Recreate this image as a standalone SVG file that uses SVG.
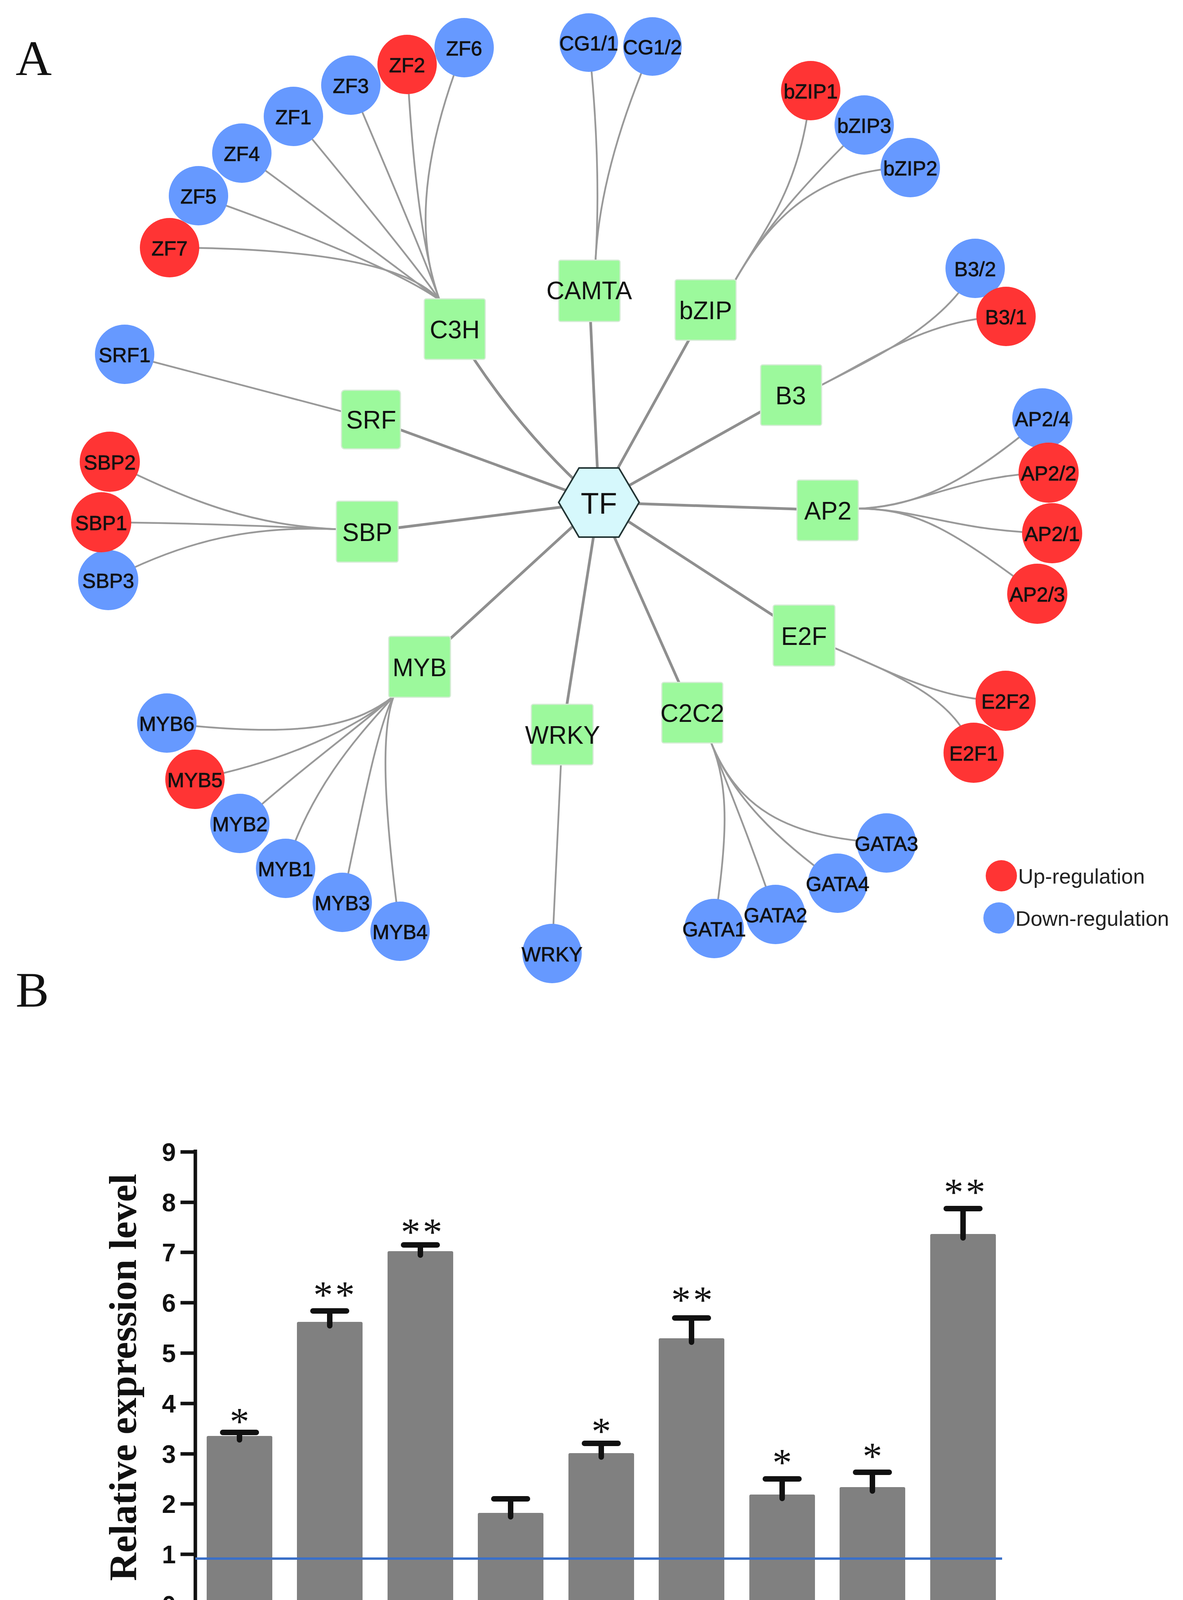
<svg xmlns="http://www.w3.org/2000/svg" width="3028" height="4442" viewBox="0 0 3028 4442">
<style>
.te{fill:none;stroke:#8f8f8f;stroke-width:7}
.le{fill:none;stroke:#999;stroke-width:4.5}
.up{fill:#ff3434}
.dn{fill:#6699ff}
.bx{fill:#9cf99c;stroke:#d4ecd4;stroke-width:3}
.ll{font-family:"Liberation Sans",Arial,sans-serif;font-size:52px;fill:#111;stroke:#111;stroke-width:1;text-anchor:middle;dominant-baseline:central}
.bl{font-family:"Liberation Sans",Arial,sans-serif;font-size:64px;fill:#111;text-anchor:middle;dominant-baseline:central}
.pl{font-family:"Liberation Serif","Times New Roman",serif;font-size:128px;fill:#111}
.tk{font-family:"Liberation Sans",Arial,sans-serif;font-weight:bold;font-size:64px;fill:#111;text-anchor:end}
.xl{font-family:"Liberation Serif","Times New Roman",serif;font-weight:bold;font-size:84px;fill:#111;text-anchor:end}
.st{font-family:"Liberation Serif","Times New Roman",serif;font-size:100px;fill:#111;text-anchor:middle;letter-spacing:6px}
.bar{fill:#808080}
.ax{stroke:#111;stroke-width:9;fill:none}
.eb{stroke:#111;stroke-width:14;stroke-linecap:round;fill:none}
.lg{font-family:"Liberation Sans",Arial,sans-serif;font-size:54px;fill:#222}
</style>
<rect width="3028" height="4442" fill="#fff"/>
<text class="pl" x="40" y="192">A</text>
<text class="pl" x="40" y="2577">B</text>
<g id="connectors">
<path class="te" d="M1533,1286 Q1320,1100 1164,842"/>
<path class="te" d="M1533,1286 L1508,744"/>
<path class="te" d="M1533,1286 L1806,793"/>
<path class="te" d="M1533,1286 L2024,1011"/>
<path class="te" d="M1533,1286 L2119,1306"/>
<path class="te" d="M1533,1286 L2058,1627"/>
<path class="te" d="M1533,1286 L1772,1824"/>
<path class="te" d="M1533,1286 L1439,1880"/>
<path class="te" d="M1533,1286 L1074,1707"/>
<path class="te" d="M1533,1286 L940,1361"/>
<path class="te" d="M1533,1286 L950,1073"/>
<path class="le" d="M1125,768 Q1010,636 434,634"/>
<path class="le" d="M1125,768 Q990,672 508,501"/>
<path class="le" d="M1125,768 Q1050,710 619,392"/>
<path class="le" d="M1125,768 Q1075,690 751,298"/>
<path class="le" d="M1125,768 Q1095,680 898,218"/>
<path class="le" d="M1125,768 Q1065,600 1042,165"/>
<path class="le" d="M1125,768 Q1030,520 1188,122"/>
<path class="le" d="M1524,672 Q1540,420 1507,109"/>
<path class="le" d="M1524,672 Q1535,430 1670,119"/>
<path class="le" d="M1878,724 C1960,580 2050,480 2075,232"/>
<path class="le" d="M1878,724 C1960,580 2060,470 2212,320"/>
<path class="le" d="M1878,724 C1960,580 2080,430 2330,429"/>
<path class="le" d="M2098,988 C2250,910 2380,815 2575,810"/>
<path class="le" d="M2098,988 C2250,910 2420,830 2496,687"/>
<path class="le" d="M2195,1302 C2350,1298 2480,1230 2668,1071"/>
<path class="le" d="M2195,1302 C2350,1298 2460,1215 2684,1210"/>
<path class="le" d="M2195,1302 C2350,1302 2450,1362 2693,1365"/>
<path class="le" d="M2195,1302 C2350,1302 2440,1360 2655,1520"/>
<path class="le" d="M2132,1657 C2300,1730 2420,1795 2574,1794"/>
<path class="le" d="M2132,1657 C2300,1730 2450,1790 2492,1927"/>
<path class="le" d="M1819,1898 C1870,2020 1860,2150 1828,2377"/>
<path class="le" d="M1819,1898 C1870,2030 1920,2150 1985,2341"/>
<path class="le" d="M1819,1898 C1875,2040 1990,2150 2144,2261"/>
<path class="le" d="M1819,1898 C1885,2060 2000,2145 2269,2158"/>
<path class="le" d="M1436,1950 L1413,2441"/>
<path class="le" d="M1008,1782 C920,1850 800,1895 427,1851"/>
<path class="le" d="M1008,1782 C920,1860 730,1950 499,1995"/>
<path class="le" d="M1008,1782 C920,1860 780,1960 614,2108"/>
<path class="le" d="M1008,1782 C940,1860 800,2000 731,2223"/>
<path class="le" d="M1008,1782 C970,1850 930,2050 876,2310"/>
<path class="le" d="M1008,1782 C975,1870 980,2050 1024,2384"/>
<path class="le" d="M866,1355 C650,1345 500,1290 281,1182"/>
<path class="le" d="M866,1355 C650,1345 450,1338 259,1337"/>
<path class="le" d="M866,1355 C650,1345 480,1380 277,1485"/>
<path class="le" d="M950,1073 L319,907"/>
</g>
<g id="TF"><polygon points="1430,1286 1482,1198 1584,1198 1636,1286 1584,1375 1482,1375" fill="#d6f8fc" stroke="#233535" stroke-width="4"/><text class="bl" x="1533" y="1288" style="font-size:76px">TF</text></g>
<g id="C3H"><rect class="bx" x="1086" y="765" width="156" height="155" rx="5"/><text class="bl" x="1164" y="844">C3H</text></g>
<g id="CAMTA"><rect class="bx" x="1430" y="666" width="157" height="157" rx="5"/><text class="bl" x="1508" y="744">CAMTA</text></g>
<g id="bZIP"><rect class="bx" x="1728" y="716" width="156" height="155" rx="5"/><text class="bl" x="1806" y="795">bZIP</text></g>
<g id="B3"><rect class="bx" x="1947" y="934" width="156" height="155" rx="5"/><text class="bl" x="2024" y="1013">B3</text></g>
<g id="AP2"><rect class="bx" x="2040" y="1229" width="157" height="155" rx="5"/><text class="bl" x="2119" y="1308">AP2</text></g>
<g id="E2F"><rect class="bx" x="1979" y="1549" width="158" height="156" rx="5"/><text class="bl" x="2058" y="1629">E2F</text></g>
<g id="C2C2"><rect class="bx" x="1694" y="1747" width="156" height="155" rx="5"/><text class="bl" x="1772" y="1826">C2C2</text></g>
<g id="WRKYbox"><rect class="bx" x="1360" y="1803" width="158" height="155" rx="5"/><text class="bl" x="1440" y="1882">WRKY</text></g>
<g id="MYB"><rect class="bx" x="995" y="1629" width="158" height="156" rx="5"/><text class="bl" x="1074" y="1709">MYB</text></g>
<g id="SBP"><rect class="bx" x="861" y="1283" width="158" height="156" rx="5"/><text class="bl" x="940" y="1363">SBP</text></g>
<g id="SRF"><rect class="bx" x="874" y="999" width="151" height="150" rx="8"/><text class="bl" x="950" y="1075">SRF</text></g>
<g id="ZF7"><circle class="up" cx="434" cy="634" r="76"/><text class="ll" x="434" y="636">ZF7</text></g>
<g id="ZF5"><circle class="dn" cx="508" cy="501" r="76"/><text class="ll" x="508" y="503">ZF5</text></g>
<g id="ZF4"><circle class="dn" cx="619" cy="392" r="76"/><text class="ll" x="619" y="394">ZF4</text></g>
<g id="ZF1"><circle class="dn" cx="751" cy="298" r="76"/><text class="ll" x="751" y="300">ZF1</text></g>
<g id="ZF3"><circle class="dn" cx="898" cy="218" r="76"/><text class="ll" x="898" y="220">ZF3</text></g>
<g id="ZF6"><circle class="dn" cx="1188" cy="122" r="76"/><text class="ll" x="1188" y="124">ZF6</text></g>
<g id="ZF2"><circle class="up" cx="1042" cy="165" r="76"/><text class="ll" x="1042" y="167">ZF2</text></g>
<g id="CG1-1"><circle class="dn" cx="1507" cy="109" r="75"/><text class="ll" x="1507" y="111">CG1/1</text></g>
<g id="CG1-2"><circle class="dn" cx="1670" cy="119" r="75"/><text class="ll" x="1670" y="121">CG1/2</text></g>
<g id="bZIP2"><circle class="dn" cx="2330" cy="429" r="76"/><text class="ll" x="2330" y="431">bZIP2</text></g>
<g id="bZIP3"><circle class="dn" cx="2212" cy="320" r="76"/><text class="ll" x="2212" y="322">bZIP3</text></g>
<g id="bZIP1"><circle class="up" cx="2075" cy="232" r="76"/><text class="ll" x="2075" y="234">bZIP1</text></g>
<g id="B3-2"><circle class="dn" cx="2496" cy="687" r="76"/><text class="ll" x="2496" y="689">B3/2</text></g>
<g id="B3-1"><circle class="up" cx="2575" cy="810" r="76"/><text class="ll" x="2575" y="812">B3/1</text></g>
<g id="AP2-4"><circle class="dn" cx="2668" cy="1071" r="77"/><text class="ll" x="2668" y="1073">AP2/4</text></g>
<g id="AP2-2"><circle class="up" cx="2684" cy="1210" r="77"/><text class="ll" x="2684" y="1212">AP2/2</text></g>
<g id="AP2-1"><circle class="up" cx="2693" cy="1365" r="77"/><text class="ll" x="2693" y="1367">AP2/1</text></g>
<g id="AP2-3"><circle class="up" cx="2655" cy="1520" r="77"/><text class="ll" x="2655" y="1522">AP2/3</text></g>
<g id="E2F2"><circle class="up" cx="2574" cy="1794" r="77"/><text class="ll" x="2574" y="1796">E2F2</text></g>
<g id="E2F1"><circle class="up" cx="2492" cy="1927" r="77"/><text class="ll" x="2492" y="1929">E2F1</text></g>
<g id="GATA3"><circle class="dn" cx="2269" cy="2158" r="76"/><text class="ll" x="2269" y="2160">GATA3</text></g>
<g id="GATA4"><circle class="dn" cx="2144" cy="2261" r="76"/><text class="ll" x="2144" y="2263">GATA4</text></g>
<g id="GATA2"><circle class="dn" cx="1985" cy="2341" r="76"/><text class="ll" x="1985" y="2343">GATA2</text></g>
<g id="GATA1"><circle class="dn" cx="1828" cy="2377" r="76"/><text class="ll" x="1828" y="2379">GATA1</text></g>
<g id="WRKY"><circle class="dn" cx="1413" cy="2441" r="76"/><text class="ll" x="1413" y="2443">WRKY</text></g>
<g id="MYB4"><circle class="dn" cx="1024" cy="2384" r="76"/><text class="ll" x="1024" y="2386">MYB4</text></g>
<g id="MYB3"><circle class="dn" cx="876" cy="2310" r="76"/><text class="ll" x="876" y="2312">MYB3</text></g>
<g id="MYB1"><circle class="dn" cx="731" cy="2223" r="76"/><text class="ll" x="731" y="2225">MYB1</text></g>
<g id="MYB2"><circle class="dn" cx="614" cy="2108" r="76"/><text class="ll" x="614" y="2110">MYB2</text></g>
<g id="MYB5"><circle class="up" cx="499" cy="1995" r="76"/><text class="ll" x="499" y="1997">MYB5</text></g>
<g id="MYB6"><circle class="dn" cx="427" cy="1851" r="76"/><text class="ll" x="427" y="1853">MYB6</text></g>
<g id="SBP3"><circle class="dn" cx="277" cy="1485" r="77"/><text class="ll" x="277" y="1487">SBP3</text></g>
<g id="SBP1"><circle class="up" cx="259" cy="1337" r="77"/><text class="ll" x="259" y="1339">SBP1</text></g>
<g id="SBP2"><circle class="up" cx="281" cy="1182" r="77"/><text class="ll" x="281" y="1184">SBP2</text></g>
<g id="SRF1"><circle class="dn" cx="319" cy="907" r="76"/><text class="ll" x="319" y="909">SRF1</text></g>
<g id="legend">
<circle class="up" cx="2563" cy="2242" r="40"/><text class="lg" x="2606" y="2262">Up-regulation</text>
<circle class="dn" cx="2557" cy="2350" r="40"/><text class="lg" x="2599" y="2370">Down-regulation</text>
</g>
<g id="chart">
<line class="ax" x1="500" y1="2943" x2="500" y2="4112"/>
<line class="ax" x1="460" y1="4108" x2="2584" y2="4108"/>
<g class="ax">
<line x1="462" y1="4108" x2="500" y2="4108"/><line x1="462" y1="3979" x2="500" y2="3979"/><line x1="462" y1="3850" x2="500" y2="3850"/><line x1="462" y1="3722" x2="500" y2="3722"/><line x1="462" y1="3593" x2="500" y2="3593"/><line x1="462" y1="3464" x2="500" y2="3464"/><line x1="462" y1="3335" x2="500" y2="3335"/><line x1="462" y1="3206" x2="500" y2="3206"/><line x1="462" y1="3078" x2="500" y2="3078"/><line x1="462" y1="2949" x2="500" y2="2949"/>
<line x1="613" y1="4108" x2="613" y2="4145"/><line x1="844" y1="4108" x2="844" y2="4145"/><line x1="1076" y1="4108" x2="1076" y2="4145"/><line x1="1307" y1="4108" x2="1307" y2="4145"/><line x1="1539" y1="4108" x2="1539" y2="4145"/><line x1="1770" y1="4108" x2="1770" y2="4145"/><line x1="2002" y1="4108" x2="2002" y2="4145"/><line x1="2233" y1="4108" x2="2233" y2="4145"/><line x1="2465" y1="4108" x2="2465" y2="4145"/>
</g>
<g>
<text class="tk" x="450" y="4131">0</text><text class="tk" x="450" y="4002">1</text><text class="tk" x="450" y="3873">2</text><text class="tk" x="450" y="3745">3</text><text class="tk" x="450" y="3616">4</text><text class="tk" x="450" y="3487">5</text><text class="tk" x="450" y="3358">6</text><text class="tk" x="450" y="3229">7</text><text class="tk" x="450" y="3101">8</text><text class="tk" x="450" y="2972">9</text>
</g>
<text transform="translate(348,3526) rotate(-90)" style="font-family:'Liberation Serif','Times New Roman',serif;font-weight:bold;font-size:100px;fill:#111;text-anchor:middle">Relative expression level</text>
<g>
<rect class="bar" x="529" y="3676" width="168" height="432" rx="4"/>
<rect class="bar" x="760" y="3384" width="168" height="724" rx="4"/>
<rect class="bar" x="992" y="3203" width="168" height="905" rx="4"/>
<rect class="bar" x="1223" y="3873" width="168" height="235" rx="4"/>
<rect class="bar" x="1455" y="3720" width="168" height="388" rx="4"/>
<rect class="bar" x="1686" y="3426" width="168" height="682" rx="4"/>
<rect class="bar" x="1918" y="3826" width="168" height="282" rx="4"/>
<rect class="bar" x="2149" y="3807" width="168" height="301" rx="4"/>
<rect class="bar" x="2381" y="3159" width="168" height="949" rx="4"/>
</g>
<path class="eb" d="M613,3686 V3667 M570,3667 H656 M844,3394 V3356 M801,3356 H887 M1076,3213 V3187 M1033,3187 H1119 M1307,3883 V3837 M1264,3837 H1350 M1539,3730 V3695 M1496,3695 H1582 M1770,3436 V3374 M1727,3374 H1813 M2002,3836 V3786 M1959,3786 H2045 M2233,3817 V3769 M2190,3769 H2276 M2465,3169 V3094 M2422,3094 H2508"/>
<line x1="500" y1="3990" x2="2565" y2="3990" stroke="#3a6fc8" stroke-width="6"/>
<g>
<text class="st" x="616" y="3672">*</text>
<text class="st" x="858" y="3348">**</text>
<text class="st" x="1082" y="3187">**</text>
<text class="st" x="1542" y="3697">*</text>
<text class="st" x="1774" y="3361">**</text>
<text class="st" x="2005" y="3777">*</text>
<text class="st" x="2236" y="3761">*</text>
<text class="st" x="2472" y="3085">**</text>
</g>
<g>
<text class="xl" transform="translate(641,4238) rotate(-45)">AP2/2</text>
<text class="xl" transform="translate(872,4238) rotate(-45)">AP2/3</text>
<text class="xl" transform="translate(1104,4238) rotate(-45)">bZIP1</text>
<text class="xl" transform="translate(1335,4238) rotate(-45)">E2F1</text>
<text class="xl" transform="translate(1566,4238) rotate(-45)">MYB5</text>
<text class="xl" transform="translate(1798,4238) rotate(-45)">SBP1</text>
<text class="xl" transform="translate(2029,4238) rotate(-45)">SBP2</text>
<text class="xl" transform="translate(2260,4238) rotate(-45)">ZF2</text>
<text class="xl" transform="translate(2488,4238) rotate(-45)">ZF7</text>
</g>
</g>
</svg>
